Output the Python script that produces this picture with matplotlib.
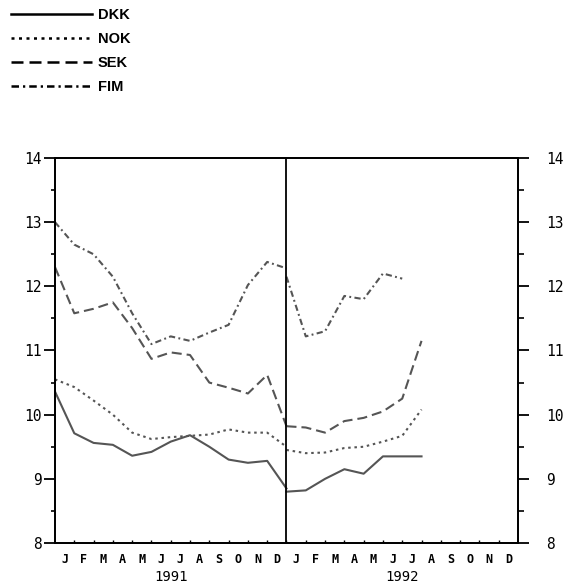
import matplotlib
matplotlib.use("Agg")
import matplotlib.pyplot as plt
from matplotlib.lines import Line2D
from matplotlib.ticker import MultipleLocator, FixedLocator

# monthly values, points at month boundaries
months = ['J', 'F', 'M', 'A', 'M', 'J', 'J', 'A', 'S', 'O', 'N', 'D']
years = ['1991', '1992']

dkk_91 = [10.36, 9.71, 9.56, 9.53, 9.36, 9.42, 9.58, 9.68, 9.5, 9.3, 9.25, 9.28, 8.85]
nok_91 = [10.55, 10.43, 10.22, 10.0, 9.72, 9.62, 9.65, 9.67, 9.69, 9.77, 9.72, 9.72, 9.5]
sek_91 = [12.3, 11.58, 11.65, 11.75, 11.35, 10.87, 10.97, 10.93, 10.5, 10.42, 10.33, 10.62, 9.82]
fim_91 = [13.0, 12.65, 12.5, 12.15, 11.58, 11.1, 11.22, 11.15, 11.28, 11.4, 12.02, 12.38, 12.28]

dkk_92 = [8.8, 8.82, 9.0, 9.15, 9.08, 9.35, 9.35, 9.35]
nok_92 = [9.45, 9.4, 9.41, 9.48, 9.5, 9.58, 9.67, 10.08]
sek_92 = [9.82, 9.8, 9.72, 9.9, 9.95, 10.05, 10.25, 11.15]
fim_92 = [12.15, 11.22, 11.3, 11.85, 11.8, 12.2, 12.12]

names = ['DKK', 'NOK', 'SEK', 'FIM']
styles = {
    'DKK': '-',
    'NOK': (0, (1.2, 1.8)),
    'SEK': (0, (4.8, 2.4)),
    'FIM': (0, (3, 1.6, 0.9, 1.6)),
}
series = {
    'DKK': (dkk_91, dkk_92),
    'NOK': (nok_91, nok_92),
    'SEK': (sek_91, sek_92),
    'FIM': (fim_91, fim_92),
}

fig = plt.figure(figsize=(5.74, 5.83), dpi=100)
ax = fig.add_axes([0.0958, 0.0686, 0.8066, 0.6604])

lc = '#555555'
for n in names:
    a, b = series[n]
    ax.plot(range(len(a)), a, color=lc, lw=1.5, linestyle=styles[n])
    ax.plot([12 + i for i in range(len(b))], b, color=lc, lw=1.5, linestyle=styles[n])

ax.axvline(12, color='black', lw=1.3)
ax.set_xlim(0, 24)
ax.set_ylim(8, 14)
for s in ax.spines.values():
    s.set_linewidth(1.3)

tick_font = {'family': 'DejaVu Sans Mono', 'size': 10.5}

ax.yaxis.set_major_locator(MultipleLocator(1))
ax.yaxis.set_minor_locator(MultipleLocator(0.5))
ax.tick_params(axis='y', which='major', direction='out', length=8, width=1.3, pad=1.5)
ax.tick_params(axis='y', which='minor', direction='out', length=3, width=1.2)
for t in ax.get_yticklabels():
    t.set_fontproperties(tick_font)

ax2 = ax.twinx()
ax2.set_ylim(8, 14)
ax2.yaxis.set_major_locator(MultipleLocator(1))
ax2.yaxis.set_minor_locator(MultipleLocator(0.5))
ax2.tick_params(axis='y', which='major', direction='out', length=8, width=1.3, pad=12)
ax2.tick_params(axis='y', which='minor', direction='out', length=4, width=1.2)
for t in ax2.get_yticklabels():
    t.set_fontproperties(tick_font)
for s in ax2.spines.values():
    s.set_linewidth(1.3)

# month labels at centres, small inward ticks at boundaries
centres = [i + 0.5 for i in range(24)]
ax.xaxis.set_major_locator(FixedLocator(centres))
ax.set_xticklabels(months * 2, fontdict={'family': 'DejaVu Sans Mono', 'size': 8.5, 'weight': 'bold'})
ax.tick_params(axis='x', which='major', length=0, pad=7)
ax.xaxis.set_minor_locator(FixedLocator(range(1, 24)))
ax.tick_params(axis='x', which='minor', direction='in', length=2.5, width=1.0)

for i, y in enumerate(years):
    ax.text(6 + 12 * i, -0.088, y, transform=ax.get_xaxis_transform(),
            ha='center', va='center', fontfamily='DejaVu Sans Mono', fontsize=10)

handles = [Line2D([], [], color='black', lw=1.8, linestyle=styles[n]) for n in names]
fig.legend(handles, names, loc='upper left', bbox_to_anchor=(-0.004, 1.009),
           frameon=False, handlelength=5.6, handletextpad=0.35, labelspacing=0.68,
           prop={'family': 'Liberation Sans', 'size': 10.5, 'weight': 'bold'})

fig.savefig('out.png', dpi=100)
